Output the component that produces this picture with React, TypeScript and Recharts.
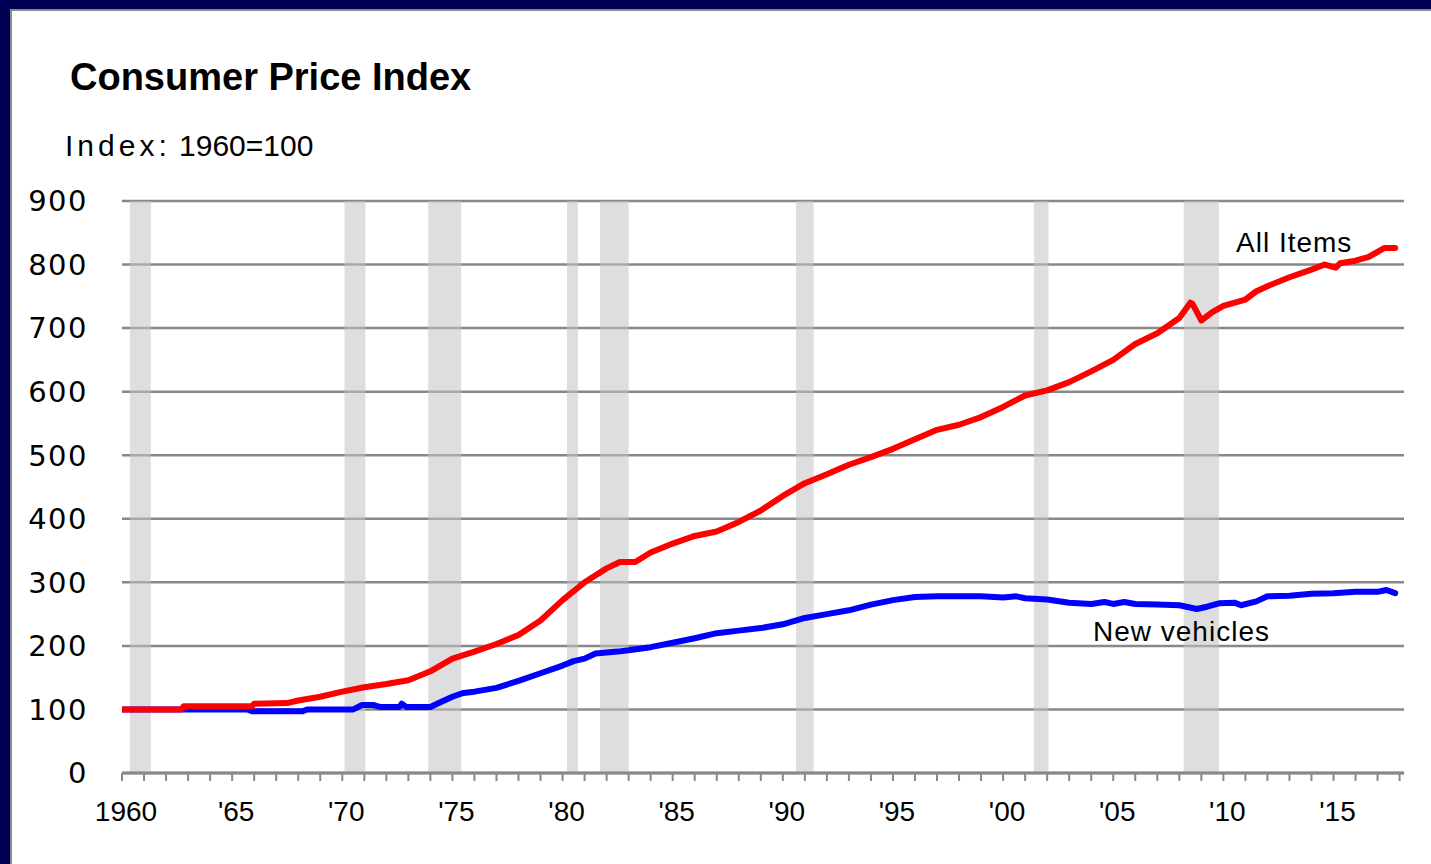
import React from 'react';
import { LineChart, Line, XAxis, YAxis, CartesianGrid, ReferenceArea } from 'recharts';

// All Items CPI, 1960=100
const allItemsYears = [
  1960, 1962.7, 1962.8, 1965.9, 1966, 1967.5, 1968, 1969, 1970, 1971, 1972, 1973, 1974, 1975,
  1976, 1977, 1978, 1979, 1980, 1981, 1982, 1982.6, 1983.3, 1984, 1985, 1986, 1987, 1988, 1989,
  1990, 1991, 1992, 1993, 1994, 1995, 1996, 1997, 1998, 1999, 2000, 2001, 2002, 2003, 2004,
  2005, 2006, 2007, 2008, 2008.5, 2008.6, 2009.0, 2009.5, 2010, 2011, 2011.5, 2012, 2013, 2014,
  2014.6, 2015.1, 2015.3, 2016, 2016.6, 2017, 2017.3, 2017.8,
];
const allItemsValues = [
  100, 100, 105, 105, 109, 110, 114, 120, 128, 135, 140, 146, 160, 180,
  191, 203, 217, 240, 272, 300, 322, 332, 332, 347, 361, 373, 380, 395, 413,
  436, 456, 470, 485, 497, 510, 525, 540, 548, 560, 576, 594, 602, 615, 632,
  650, 675, 692, 716, 740, 738, 712, 725, 735, 745, 758, 766, 780, 792,
  800, 795, 802, 806, 812, 820, 826, 826,
];

// New vehicles CPI, 1960=100
const newVehYears = [
  1960, 1965.7, 1965.9, 1968.2, 1968.4, 1970.5, 1970.9, 1971.4, 1971.7, 1972.6, 1972.7, 1972.9,
  1974, 1974.5, 1975, 1975.5, 1976, 1977, 1978, 1979, 1980, 1980.5, 1981, 1981.5, 1982.5, 1983,
  1984, 1985, 1986, 1987, 1988, 1989, 1990, 1991, 1992, 1993, 1994, 1995, 1996, 1997, 1998, 1999,
  2000, 2000.6, 2001, 2002, 2003, 2004, 2004.6, 2005, 2005.5, 2006, 2007, 2008, 2008.8, 2009.3,
  2009.8, 2010.5, 2010.8, 2011.5, 2012, 2013, 2014, 2015, 2016, 2017, 2017.4, 2017.8,
];
const newVehValues = [
  100, 100, 97, 97, 100, 100, 107, 107, 104, 104, 109, 104,
  104, 112, 120, 126, 128, 134, 145, 157, 169, 176, 180, 188, 191, 193,
  198, 205, 212, 220, 224, 228, 234, 244, 250, 256, 265, 272, 277, 278, 278, 278,
  276, 278, 275, 273, 268, 266, 269, 266, 269, 266, 265, 264, 258, 262,
  267, 268, 264, 270, 278, 279, 282, 283, 285, 285, 288, 283,
];

// recession shading (start, end)
const recessionStarts = [1960.36, 1970.1, 1973.9, 1980.2, 1981.7, 1990.6, 2001.4, 2008.2];
const recessionEnds = [1961.31, 1971.05, 1975.4, 1980.7, 1983.0, 1991.4, 2002.06, 2009.8];

const yTicks = [0, 100, 200, 300, 400, 500, 600, 700, 800, 900];
const xLabelYears = [1960, 1965, 1970, 1975, 1980, 1985, 1990, 1995, 2000, 2005, 2010, 2015];
const xLabels = ['1960', "'65", "'70", "'75", "'80", "'85", "'90", "'95", "'00", "'05", "'10", "'15"];
const xTicks = Array.from({ length: 59 }, (_, i) => 1960 + i);

const allItemsData = allItemsYears.map((year, i) => ({ year, v: allItemsValues[i] }));
const newVehData = newVehYears.map((year, i) => ({ year, v: newVehValues[i] }));

const XTick = (props: any) => {
  const { x, y, payload } = props;
  const idx = xLabelYears.indexOf(payload.value);
  if (idx < 0) return null;
  return (
    <text x={x + 4} y={y} dy="0.71em" textAnchor="middle" fontFamily="Liberation Sans" fontSize={28} fill="#000">
      {xLabels[idx]}
    </text>
  );
};

const textStyle = (left: number, top: number, size: number, extra: React.CSSProperties = {}): React.CSSProperties => ({
  position: 'absolute',
  left,
  top,
  fontFamily: 'Liberation Sans',
  fontSize: size,
  lineHeight: 1,
  color: '#000',
  whiteSpace: 'nowrap',
  ...extra,
});

export default function App() {
  return (
    <div style={{ position: 'absolute', left: 0, top: 0, width: 1431, height: 864, background: '#000050', overflow: 'hidden' }}>
      <div
        style={{
          position: 'absolute',
          left: 10,
          top: 9,
          width: 1431,
          height: 864,
          background: '#fff',
          borderLeft: '2px solid #8c8c8c',
          borderTop: '2px solid #8c8c8c',
        }}
      />
      <div style={{ position: 'absolute', left: 0, top: 0 }}>
        <LineChart width={1431} height={864} margin={{ top: 201, right: 27, bottom: 31, left: 22 }}>
          <CartesianGrid horizontal vertical={false} stroke="#888" strokeWidth={2.5} />
          {recessionStarts.map((s, i) => (
            <ReferenceArea
              key={s}
              x1={s}
              x2={recessionEnds[i]}
              y1={0}
              y2={900}
              fill="#c3c3c3"
              fillOpacity={0.55}
              stroke="none"
              ifOverflow="hidden"
            />
          ))}
          <XAxis
            type="number"
            dataKey="year"
            domain={[1960, 2018.2]}
            ticks={xTicks}
            interval={0}
            allowDataOverflow
            height={60}
            stroke="#888"
            axisLine={{ stroke: '#888', strokeWidth: 3 }}
            tickLine={{ stroke: '#888', strokeWidth: 2 }}
            tickSize={8}
            tickMargin={20}
            tick={<XTick />}
          />
          <YAxis
            type="number"
            domain={[0, 900]}
            ticks={yTicks}
            interval={0}
            width={100}
            axisLine={false}
            tickLine={false}
            tickSize={0}
            tickMargin={34}
            tick={{ fontFamily: 'DejaVu Sans', fontSize: 29, fill: '#000', letterSpacing: 1.5 }}
          />
          <Line
            data={newVehData}
            dataKey="v"
            type="linear"
            stroke="#0000ff"
            strokeWidth={6}
            dot={false}
            strokeLinejoin="round"
            strokeLinecap="round"
            isAnimationActive={false}
          />
          <Line
            data={allItemsData}
            dataKey="v"
            type="linear"
            stroke="#ff0000"
            strokeWidth={6}
            dot={false}
            strokeLinejoin="round"
            strokeLinecap="round"
            isAnimationActive={false}
          />
        </LineChart>
      </div>
      <div style={textStyle(70, 58, 38, { fontWeight: 'bold' })}>Consumer Price Index</div>
      <div style={textStyle(65, 131, 30)}>
        <span style={{ letterSpacing: 4 }}>Index:</span> 1960=100
      </div>
      <div style={textStyle(1236, 229, 28, { letterSpacing: 1 })}>All Items</div>
      <div style={textStyle(1093, 618, 28, { letterSpacing: 1 })}>New vehicles</div>
    </div>
  );
}
